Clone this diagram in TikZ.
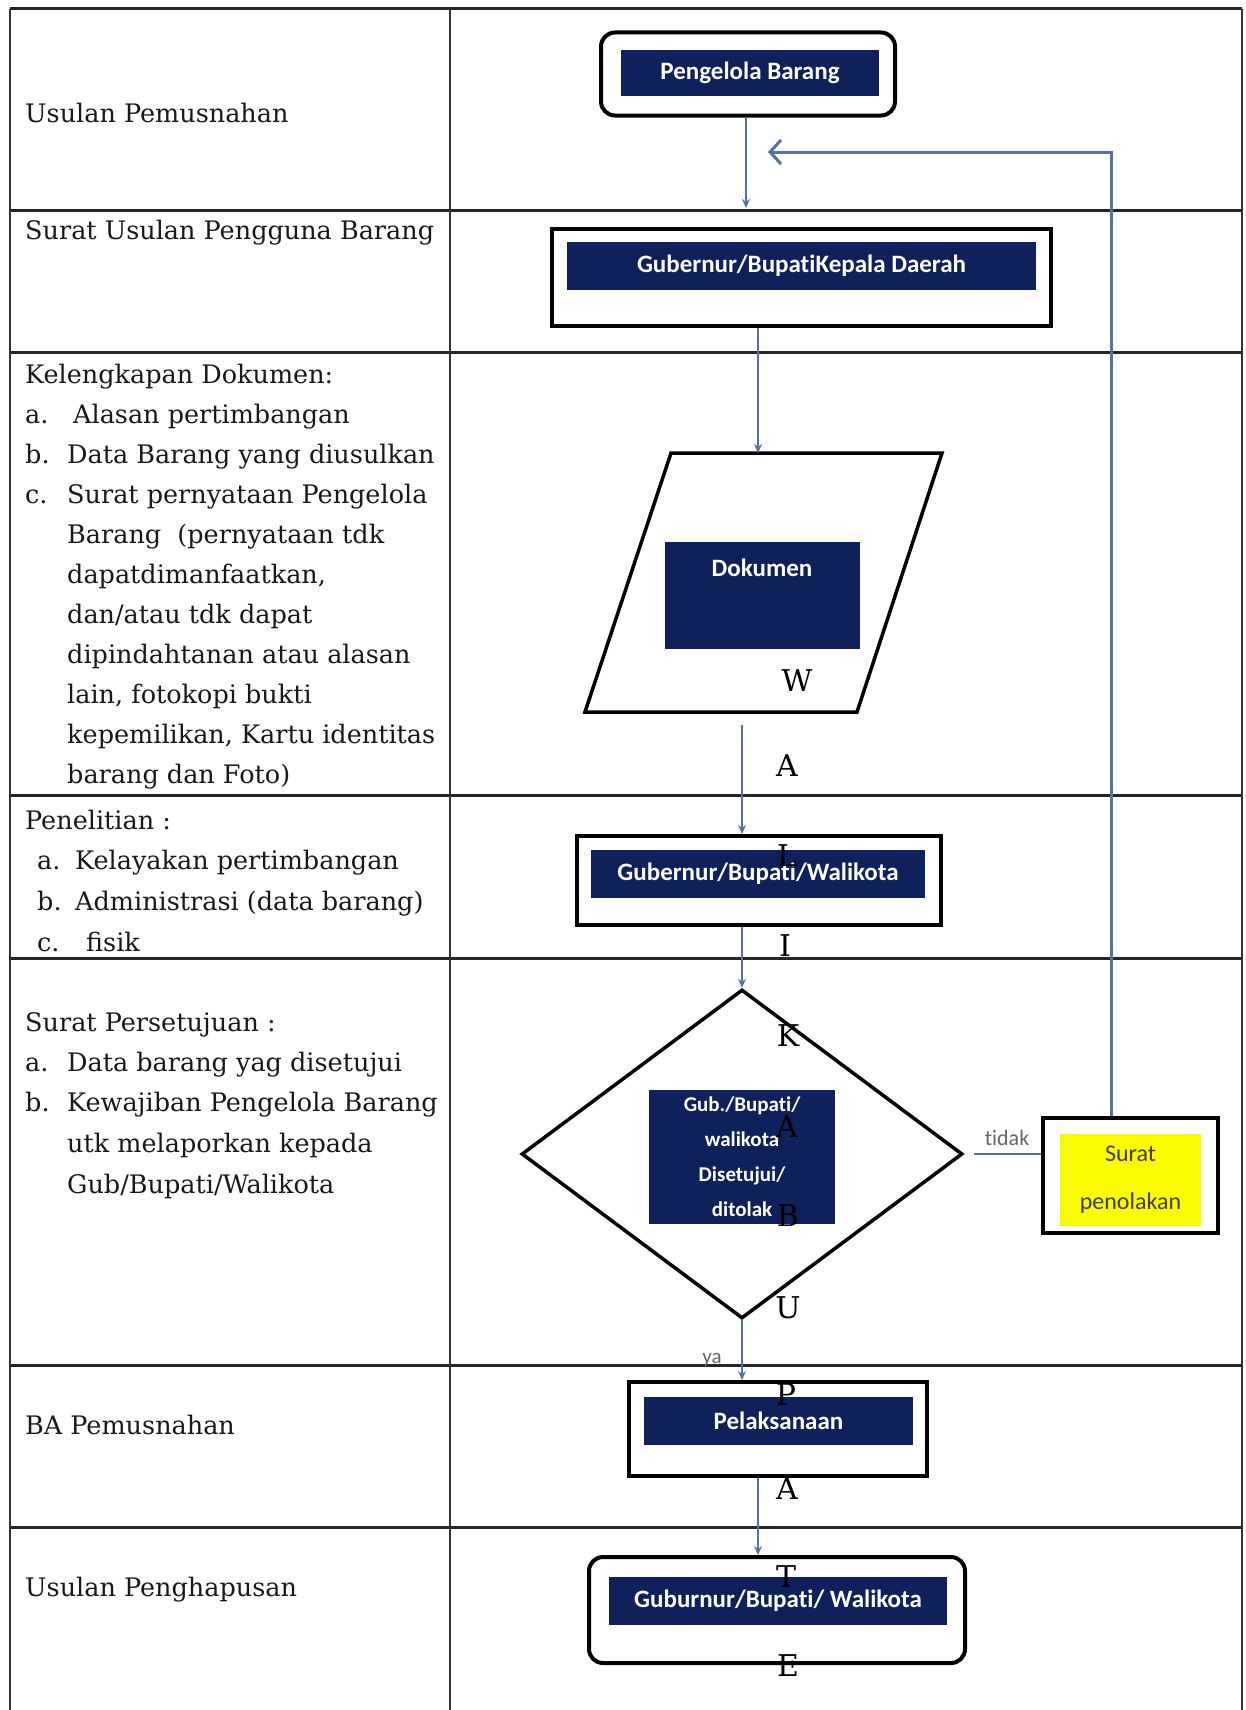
\documentclass[tikz,border=0pt]{standalone}
\usepackage{fontspec}
\setmainfont{DejaVu Serif}
\newfontfamily\calfont[Ligatures=NoCommon]{Carlito}
\newfontfamily\letterfont{DejaVu Serif}
\usetikzlibrary{arrows.meta,shapes.geometric}
\definecolor{navy}{RGB}{14,33,90}
\definecolor{flowblue}{RGB}{84,116,158}
\definecolor{yel}{RGB}{250,250,0}
\definecolor{txt}{RGB}{25,25,25}
\tikzset{
  rowline/.style={line width=3pt, draw=black!85},
  colline/.style={line width=1.5pt, draw=black!80},
  obox/.style={draw=black, line width=4pt, fill=white, inner sep=0pt},
  ibox/.style={fill=navy, text=white, inner sep=0pt, align=center,
    font=\calfont\bfseries\fontsize{25}{30}\selectfont},
  flow/.style={draw=flowblue, line width=2pt, -{Stealth[length=9pt,width=8pt]}},
  plainflow/.style={draw=flowblue, line width=2pt},
  retflow/.style={draw=flowblue, line width=3pt, -{Straight Barb[length=11pt,width=24pt]}},
  lefttext/.style={anchor=base west, inner sep=0pt, text=txt,
    font=\fontsize{25.5}{30}\selectfont},
  vletter/.style={font=\letterfont\fontsize{30}{36}\selectfont, inner sep=0pt, anchor=base},
  greylbl/.style={text=black!60, inner sep=0pt, anchor=base,
    font=\calfont\fontsize{22}{26}\selectfont}
}
\begin{document}
\begin{tikzpicture}[x=1pt,y=-1pt]
\useasboundingbox (0,0) rectangle (1245,1710);
\fill[white] (0,0) rectangle (1245,1710);

% table
\draw[rowline] (10,9) -- (1242,9);
\draw[rowline] (10,210) -- (1242,210);
\draw[rowline] (10,352) -- (1242,352);
\draw[rowline] (10,795) -- (1242,795);
\draw[rowline] (10,958) -- (1242,958);
\draw[rowline] (10,1365) -- (1242,1365);
\draw[rowline] (10,1527) -- (1242,1527);
\draw[colline] (10,9) -- (10,1710);
\draw[colline] (450,9) -- (450,1710);
\draw[colline] (1242,9) -- (1242,1710);

% left column text
\node[lefttext] (t1) at (25,122) {Usulan Pemusnahan};
\node[lefttext] (t2) at (25,239) {Surat Usulan Pengguna Barang};
\node[lefttext] (t3) at (25,383) {Kelengkapan Dokumen:};
\node[lefttext] (t3a) at (25,423) {a.};
\node[lefttext] (t3at) at (73,423) {Alasan pertimbangan};
\node[lefttext] (t3b) at (25,463) {b.};
\node[lefttext] (t3bt) at (67,463) {Data Barang yang diusulkan};
\node[lefttext] (t3c) at (25,503) {c.};
\node[lefttext] (t3ct) at (67,503) {Surat pernyataan Pengelola};
\node[lefttext] (t3d) at (67,543) {Barang\ \ (pernyataan tdk};
\node[lefttext] (t3e) at (67,583) {dapatdimanfaatkan,};
\node[lefttext] (t3f) at (67,623) {dan/atau tdk dapat};
\node[lefttext] (t3g) at (67,663) {dipindahtanan atau alasan};
\node[lefttext] (t3h) at (67,703) {lain, fotokopi bukti};
\node[lefttext] (t3i) at (67,743) {kepemilikan, Kartu identitas};
\node[lefttext] (t3j) at (67,783) {barang dan Foto)};
\node[lefttext] (t4) at (25,829) {Penelitian :};
\node[lefttext] (t4a) at (37,869) {a.};
\node[lefttext] (t4at) at (75,869) {Kelayakan pertimbangan};
\node[lefttext] (t4b) at (37,910) {b.};
\node[lefttext] (t4bt) at (75,910) {Administrasi (data barang)};
\node[lefttext] (t4c) at (37,951) {c.};
\node[lefttext] (t4ct) at (86,951) {fisik};
\node[lefttext] (t5) at (25,1031) {Surat Persetujuan :};
\node[lefttext] (t5a) at (25,1071) {a.};
\node[lefttext] (t5at) at (67,1071) {Data barang yag disetujui};
\node[lefttext] (t5b) at (25,1111) {b.};
\node[lefttext] (t5bt) at (67,1111) {Kewajiban Pengelola Barang};
\node[lefttext] (t5c) at (67,1152) {utk melaporkan kepada};
\node[lefttext] (t5d) at (67,1193) {Gub/Bupati/Walikota};
\node[lefttext] (t6) at (25,1434) {BA Pemusnahan};
\node[lefttext] (t7) at (25,1596) {Usulan Penghapusan};

% flow boxes
\node[obox, rounded corners=14pt, minimum width=294, minimum height=83] (pgb) at (748,74) {};
\node[ibox, minimum width=258, minimum height=46] (pgbl) at (750,73) {Pengelola Barang};

\node[obox, minimum width=499, minimum height=97] (gub1) at (801.5,277.5) {};
\node[ibox, minimum width=469, minimum height=48] (gub1l) at (801.5,266) {Gubernur/BupatiKepala Daerah};

\coordinate (ptl) at (671,453);
\coordinate (ptr) at (942,453);
\coordinate (pbr) at (857,712);
\coordinate (pbl) at (585,712);
\draw[line width=3.5pt, line join=miter] (ptl) -- (ptr) -- (pbr) -- (pbl) -- cycle;
\node[fill=navy, inner sep=0pt, minimum width=195, minimum height=107] (dok) at (762.5,595.5) {};
\node[ibox, fill=none] (dokl) at (762,568) {Dokumen};

\node[obox, minimum width=364, minimum height=89] (gub2) at (759,880.5) {};
\node[ibox, minimum width=334, minimum height=48] (gub2l) at (758,874) {Gubernur/Bupati/Walikota};

\node[diamond, draw=black, line width=3.5pt, fill=white, inner sep=0pt, aspect=1.34,
      minimum width=441, minimum height=329] (dia) at (742,1154) {};
\node[ibox, minimum width=186, minimum height=134,
      font=\calfont\bfseries\fontsize{21}{35}\selectfont] (dial) at (742,1157)
      {Gub./Bupati/\\walikota\\Disetujui/\\ditolak};

\node[obox, minimum width=175, minimum height=115] (sp) at (1130.5,1175.5) {};
\node[fill=yel, text=black!75, inner sep=0pt, align=center, minimum width=141, minimum height=92,
      font=\calfont\fontsize{24}{48}\selectfont] (spl) at (1130.5,1180) {Surat\\penolakan};

\node[obox, minimum width=298, minimum height=94] (pel) at (778,1429) {};
\node[ibox, minimum width=269, minimum height=48] (pell) at (778.5,1421) {Pelaksanaan};

\node[obox, rounded corners=14pt, minimum width=376, minimum height=106] (fin) at (777,1610) {};
\node[ibox, minimum width=338, minimum height=48] (finl) at (778,1601) {Guburnur/Bupati/ Walikota};

% connectors
\coordinate (e1) at (746,208);
\draw[flow] (pgb.south -| e1) -- (e1);
\coordinate (ptop) at (758,453);
\draw[flow] (gub1.south -| ptop) -- (ptop);
\coordinate (pbot) at (742,725);
\draw[flow] (pbot) -- (pbot |- gub2.north);
\draw[flow] (gub2.south -| dia.north) -- (dia.north);
\draw[flow] (dia.south) -- (dia.south |- pel.north);
\node[greylbl, font=\calfont\fontsize{21}{24}\selectfont] (ya) at (712,1363) {ya};
\coordinate (e6) at (758,1500);
\draw[flow] (pel.south -| e6) -- (fin.north -| e6);
\draw[plainflow, shorten <=10pt] (dia.east) -- (dia.east -| sp.west);
\node[greylbl] (tidak) at (1007,1145) {tidak};
\coordinate (rtop) at (1111,152);
\coordinate (rtip) at (768,152);
\draw[retflow] (sp.north -| rtop) -- (rtop) -- (rtip);

% vertical letters
\node[vletter] (v1) at (797,691) {W};
\node[vletter] (v2) at (787,776) {A};
\node[vletter] (v3) at (787,866) {L};
\node[vletter] (v4) at (785,956) {I};
\node[vletter] (v5) at (788,1046) {K};
\node[vletter] (v6) at (787,1137) {A};
\node[vletter] (v7) at (788,1226) {B};
\node[vletter] (v8) at (788,1318) {U};
\node[vletter] (v9) at (786,1405) {P};
\node[vletter] (v10) at (787,1499) {A};
\node[vletter] (v11) at (786,1587) {T};
\node[vletter] (v12) at (788,1676) {E};
\end{tikzpicture}
\end{document}
